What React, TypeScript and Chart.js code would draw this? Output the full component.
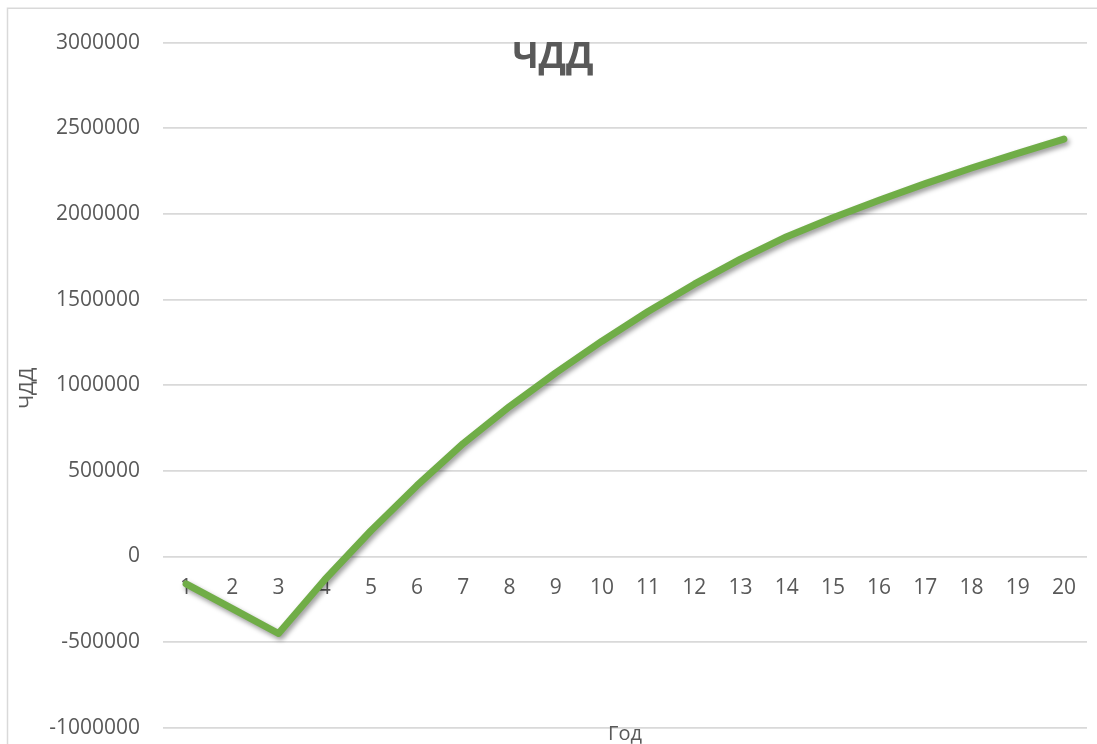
import { useEffect, useRef } from 'react';
import { Chart, registerables } from 'chart.js';

Chart.register(...registerables);

// Years of the project
const years = ['1', '2', '3', '4', '5', '6', '7', '8', '9', '10', '11', '12', '13', '14', '15', '16', '17', '18', '19', '20'];

// Cumulative net present value per year
const npv = [
  -160000, -305000, -450000, -136000, 150000, 415000, 660000, 875000, 1072000, 1257000,
  1430000, 1590000, 1736000, 1867000, 1978000, 2080000, 2177000, 2268000, 2354000, 2437000,
];

// Value axis range
const yMin = -1000000;
const yMax = 3000000;
const yStep = 500000;

const chartTitle = 'ЧДД';
const yAxisTitle = 'ЧДД';
const xAxisTitle = 'Год';

const TEXT = '#595959';
const GRID = '#d9d9d9';
const LINE = '#70ad47';
const FONT = "'Open Sans', sans-serif";

// White background and the light frame around the chart
const framePlugin = {
  id: 'frame',
  beforeDraw(chart: any) {
    const { ctx, width, height } = chart;
    ctx.save();
    ctx.fillStyle = '#ffffff';
    ctx.fillRect(0, 0, width, height);
    ctx.strokeStyle = GRID;
    ctx.lineWidth = 1.5;
    ctx.beginPath();
    ctx.moveTo(7.5, height + 10);
    ctx.lineTo(7.5, 8.3);
    ctx.lineTo(width + 10, 8.3);
    ctx.stroke();
    ctx.restore();
  },
};

// Soft drop shadow under the line
const shadowPlugin = {
  id: 'lineShadow',
  beforeDatasetDraw(chart: any) {
    const ctx = chart.ctx;
    ctx.save();
    ctx.shadowColor = 'rgba(0, 0, 0, 0.4)';
    ctx.shadowBlur = 5;
    ctx.shadowOffsetX = 2;
    ctx.shadowOffsetY = 3;
  },
  afterDatasetDraw(chart: any) {
    chart.ctx.restore();
  },
};

// Chart title and axis titles, laid over the plot like a spreadsheet chart
const titlesPlugin = {
  id: 'titles',
  afterDraw(chart: any) {
    const { ctx, chartArea } = chart;
    ctx.save();
    ctx.fillStyle = TEXT;
    ctx.textAlign = 'center';
    ctx.textBaseline = 'alphabetic';

    ctx.font = `bold 36px ${FONT}`;
    ctx.fillText(chartTitle, 553, 68);

    ctx.font = `20px ${FONT}`;
    ctx.fillText(xAxisTitle, (chartArea.left + chartArea.right) / 2, 740);

    ctx.translate(32.5, (chartArea.top + chartArea.bottom) / 2 + 3);
    ctx.rotate(-Math.PI / 2);
    ctx.fillText(yAxisTitle, 0, 0);
    ctx.restore();
  },
};

export default function App() {
  const canvasRef = useRef<HTMLCanvasElement | null>(null);

  useEffect(() => {
    document.documentElement.style.overflow = 'hidden';
    document.body.style.overflow = 'hidden';
    const canvas = canvasRef.current;
    if (!canvas) return;

    const chart = new Chart(canvas, {
      type: 'line',
      data: {
        labels: years,
        datasets: [
          {
            label: chartTitle,
            data: npv,
            borderColor: LINE,
            backgroundColor: LINE,
            borderWidth: 7,
            borderCapStyle: 'round',
            borderJoinStyle: 'round',
            pointRadius: 0,
            pointHoverRadius: 0,
            tension: 0,
            fill: false,
          },
        ],
      },
      options: {
        responsive: false,
        animation: false,
        events: [],
        layout: {
          padding: { left: 0, right: 10, top: 42.7, bottom: 16.3 },
        },
        plugins: {
          legend: { display: false },
          title: { display: false },
          tooltip: { enabled: false },
        },
        scales: {
          x: {
            type: 'category',
            position: { y: 0 } as any,
            offset: true,
            grid: { display: false, drawTicks: false },
            border: { display: false },
            afterFit(scale: any) {
              // the category axis sits on the zero line, so it takes no room of its own
              scale.height = 0;
            },
            ticks: {
              color: TEXT,
              font: { family: FONT, size: 21 },
              padding: 19,
              maxRotation: 0,
              autoSkip: false,
            },
          },
          y: {
            type: 'linear',
            min: yMin,
            max: yMax,
            grid: { color: GRID, lineWidth: 1.75, drawTicks: false },
            border: { display: false },
            afterFit(scale: any) {
              scale.width = 163;
              scale.paddingTop = 0;
              scale.paddingBottom = 0;
            },
            ticks: {
              stepSize: yStep,
              color: TEXT,
              font: { family: FONT, size: 21 },
              padding: 23,
              callback: (value: any) => String(value),
            },
          },
        },
      },
      plugins: [framePlugin, shadowPlugin, titlesPlugin],
    });

    return () => chart.destroy();
  }, []);

  return (
    <div style={{ position: 'fixed', left: 0, top: 0, width: 1097, height: 744 }}>
      <canvas ref={canvasRef} width={1097} height={744} style={{ display: 'block', width: 1097, height: 744 }} />
    </div>
  );
}
